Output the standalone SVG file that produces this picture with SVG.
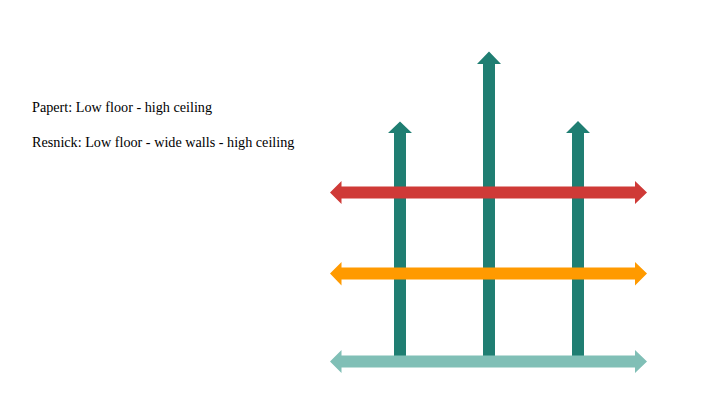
<svg xmlns="http://www.w3.org/2000/svg" width="720" height="405" viewBox="0 0 720 405">
<style>
.lbl{font-family:"Liberation Serif","DejaVu Serif",serif;font-size:14.2px;fill:#000}
.up{fill:#1F7E72}
</style>
<rect width="720" height="405" fill="#fff"/>
<g id="text-papert"><text class="lbl" x="32" y="112">Papert: Low floor - high ceiling</text></g>
<g id="text-resnick"><text class="lbl" x="32" y="147">Resnick: Low floor - wide walls - high ceiling</text></g>
<g id="connectors">
<g id="up-left"><polygon class="up" points="394,361 394,133 388,133 400,121.5 412,133 406,133 406,361"/></g>
<g id="up-middle"><polygon class="up" points="483,361 483,64 477,64 489,51.5 501,64 495,64 495,361"/></g>
<g id="up-right"><polygon class="up" points="572,361 572,133 566,133 578,121 590,133 584,133 584,361"/></g>
<g id="wide-red"><polygon fill="#CF3A37" points="330,192.5 341.5,181 341.5,186.5 635,186.5 635,181 647,192.5 635,204 635,198.5 341.5,198.5 341.5,204"/></g>
<g id="wide-orange"><polygon fill="#FF9A00" points="330,273.5 341.5,262 341.5,267.5 635,267.5 635,262 647,273.5 635,285.5 635,279.5 341.5,279.5 341.5,285.5"/></g>
<g id="wide-teal"><polygon fill="#80BFB6" points="330,361.5 341.5,350 341.5,355.5 635,355.5 635,350 647,361.5 635,373 635,367.5 341.5,367.5 341.5,373"/></g>
</g>
</svg>
